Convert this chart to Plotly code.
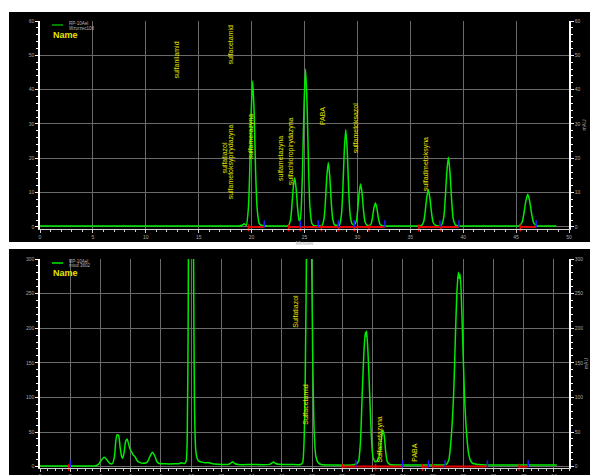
import plotly.graph_objects as go

# ---------------- data ----------------
# top chromatogram: standard mix (Wzorzec108)
top_minutes = [0, 5, 10, 15, 18.8, 19.1, 19.3, 19.5, 19.7, 19.82, 19.96, 20.1, 20.24, 20.38, 20.52, 20.7, 20.9,
               21.5, 23.0, 23.47, 23.67, 23.79, 23.93, 24.07, 24.21, 24.35, 24.49, 24.58, 24.7, 24.82, 24.96,
               25.1, 25.24, 25.38, 25.52, 25.7, 25.9, 26.65, 26.85, 26.97, 27.11, 27.25, 27.39, 27.53, 27.67,
               27.85, 28.1, 28.3, 28.5, 28.62, 28.76, 28.9, 29.04, 29.18, 29.32, 29.5, 29.7, 29.9, 30.02,
               30.16, 30.3, 30.44, 30.58, 30.72, 30.9, 31.1, 31.3, 31.42, 31.56, 31.7, 31.84, 31.98, 32.12,
               32.3, 33.0, 35.5, 36.04, 36.26, 36.39, 36.55, 36.7, 36.85, 37.01, 37.16, 37.36, 37.6, 37.94,
               38.16, 38.29, 38.45, 38.6, 38.75, 38.91, 39.06, 39.26, 39.5, 42.0, 45.0, 45.29, 45.56, 45.72,
               45.91, 46.1, 46.29, 46.48, 46.67, 46.91, 47.2, 48.8]
top_mau = [0.3, 0.3, 0.3, 0.3, 0.3, 0.5, 0.9, 0.5, 5.7, 15.9, 33.3, 42.5, 33.3, 15.9, 5.5, 1.2, 0.5,
           0.3, 0.3, 0.4, 1.9, 5.4, 11.2, 14.3, 11.2, 5.4, 2.0, 1.8, 6.2, 17.3, 36.0,
           46.0, 36.0, 17.3, 5.5, 1.0, 0.4, 0.4, 2.5, 7.1, 14.7, 18.8, 14.7, 7.1, 2.3,
           0.6, 0.4, 0.5, 3.8, 10.6, 22.2, 28.3, 22.2, 10.6, 3.4, 0.9, 0.6, 1.7, 4.7,
           9.8, 12.5, 9.8, 4.7, 1.5, 0.5, 0.4, 0.9, 2.6, 5.5, 7.0, 5.5, 2.6, 0.9,
           0.4, 0.3, 0.3, 0.4, 1.5, 4.0, 8.5, 10.8, 8.5, 4.0, 1.3, 0.5, 0.3, 0.5,
           2.7, 7.6, 15.9, 20.3, 15.9, 7.6, 2.3, 0.6, 0.3, 0.3, 0.3, 0.4, 1.3, 3.6,
           7.4, 9.5, 7.4, 3.6, 1.1, 0.4, 0.3, 0.3]

# bottom chromatogram: sample (miod 3602)
bot_minutes = [0.0, 1.0, 2.0, 3.0, 3.6, 3.85, 4.05, 4.24, 4.42, 4.62, 4.8, 4.93, 5.02, 5.1, 5.2, 5.3, 5.4,
               5.47, 5.56, 5.66, 5.76, 5.86, 5.96, 6.04, 6.16, 6.29, 6.42, 6.62, 6.9, 7.1, 7.28, 7.44,
               7.6, 7.74, 7.84, 8.3, 8.9, 9.2, 9.38, 9.5, 9.6, 9.68, 9.74, 9.8, 9.86, 9.92, 9.98, 10.04,
               10.1, 10.16, 10.22, 10.3, 10.38, 10.5, 10.7, 10.95, 11.13, 11.35, 11.8, 12.5, 12.62,
               12.74, 12.88, 13.1, 14.0, 15.2, 15.33, 15.45, 15.58, 15.8, 16.6, 17.25, 17.38, 17.46,
               17.55, 17.64, 17.72, 17.8, 17.88, 17.96, 18.05, 18.14, 18.25, 18.4, 18.6, 19.5, 20.6,
               20.95, 21.08, 21.2, 21.32, 21.43, 21.52, 21.56, 21.61, 21.7, 21.81, 21.92, 22.03, 22.18,
               22.3, 22.47, 22.6, 22.69, 22.78, 22.88, 22.98, 23.15, 24.0, 25.5, 26.7, 26.9, 27.05,
               27.2, 27.37, 27.48, 27.58, 27.68, 27.74, 27.8, 27.9, 28.0, 28.08, 28.2, 28.35, 28.5,
               28.65, 28.9, 29.5, 31.0, 34.2]
bot_mau = [0.8, 0.8, 0.8, 0.8, 1.0, 3.0, 9.0, 13.4, 10.0, 4.5, 4.5, 15.0, 38.0, 46.0, 45.0, 28.0, 15.0,
           12.0, 20.0, 36.0, 40.0, 33.0, 25.0, 22.0, 17.0, 14.3, 9.0, 5.7, 5.0, 6.5, 15.0, 20.6,
           15.0, 7.0, 4.8, 4.0, 4.0, 4.3, 5.5, 4.5, 5.0, 9.0, 40.0, 200.0, 520.0, 860.0, 990.0, 880.0,
           600.0, 300.0, 90.0, 25.0, 13.0, 8.0, 6.5, 5.5, 6.0, 4.5, 3.5, 3.5, 5.0,
           7.0, 4.5, 3.0, 3.0, 3.2, 5.0, 6.7, 4.5, 3.5, 3.0, 3.0, 6.0, 30.0,
           130.0, 330.0, 520.0, 630.0, 520.0, 330.0, 150.0, 50.0, 15.0, 6.0, 3.0, 2.2, 2.2,
           4.0, 8.0, 35.0, 106.0, 165.0, 194.0, 188.0, 196.0, 165.0, 106.0, 45.0, 14.0, 7.0,
           8.0, 18.0, 42.0, 53.0, 44.0, 20.0, 7.0, 3.0, 2.3, 2.3, 2.5, 3.5, 10.0,
           40.0, 106.0, 185.0, 250.0, 281.0, 272.0, 278.0, 230.0, 160.0, 106.0, 55.0, 20.0, 8.0,
           4.5, 3.5, 2.5, 2.2, 2.2]

# peak names
top_label_names = ["sulfanilamid", "sulfacetamid", "sulfatiazol", "sulfametoksypirydazyna", "sulfamerazyna",
                   "sulfametazyna", "sulfachloropirydazyna", "PABA", "sulfametoksazol", "sulfadimetoksyna"]
top_label_min = [12.85, 17.96, 17.45, 18.05, 19.94, 22.84, 23.8, 26.72, 29.8, 36.5]
top_label_mau = [48.8, 52.9, 20.1, 19.1, 26.4, 20.0, 22.0, 32.2, 28.8, 18.35]

bot_label_names = ["Sulfatiazol", "Sulfacetamid", "Sulfametazyna", "PABA"]
bot_label_min = [16.92, 17.6, 22.47, 24.77]
bot_label_mau = [225, 89.4, 38.5, 20.6]

# integration baselines and peak start/end marks
top_base_segments = [(19.7, 21.2), (23.5, 32.6), (35.8, 39.6), (45.4, 46.9)]
top_start_marks = [19.7, 23.5, 24.6, 26.6, 28.2, 29.7, 31.1, 35.8, 37.9, 45.4]
top_end_marks = [21.2, 24.6, 26.3, 28.2, 29.7, 32.6, 37.8, 39.6, 46.9]
bot_base_segments = [(1.9, 2.0), (20.0, 23.95), (25.3, 25.7), (26.0, 29.6), (31.7, 32.3)]
bot_start_marks = [1.9, 20.0, 22.2, 25.3, 26.0, 31.7]
bot_end_marks = [2.0, 20.9, 24.0, 25.7, 26.8, 29.6, 32.3]

legend_top = ["RP-10Ael", "Wzorzec108"]
legend_bot = ["RP-10Ael", "miod 3602"]

# ---------------- figure ----------------
W, H = 592, 475


def px(x):
    return x / W


def py(y):
    return 1 - y / H


GREEN = "rgb(0,235,0)"
YELLOW = "#e6e600"
GRID = "#6a6a6a"
TICKC = "#a8a8a8"
FONT = "Liberation Sans"

fig = go.Figure()

fig.add_trace(go.Scatter(x=top_minutes, y=top_mau, mode="lines", xaxis="x", yaxis="y",
                         line=dict(color=GREEN, width=1.5, shape="spline", smoothing=0.6),
                         showlegend=False, hoverinfo="skip"))
fig.add_trace(go.Scatter(x=bot_minutes, y=bot_mau, mode="lines", xaxis="x2", yaxis="y2",
                         line=dict(color=GREEN, width=1.5, shape="spline", smoothing=0.6),
                         showlegend=False, hoverinfo="skip"))


def seg_xy(segs, level):
    xs, ys = [], []
    for a, b in segs:
        xs += [a, b, None]
        ys += [level, level, None]
    return xs, ys


for segs, xa, ya, lvl in [(top_base_segments, "x", "y", 0.0), (bot_base_segments, "x2", "y2", 0.0)]:
    sx, sy = seg_xy(segs, lvl)
    fig.add_trace(go.Scatter(x=sx, y=sy, mode="lines", xaxis=xa, yaxis=ya,
                             line=dict(color="rgb(235,0,0)", width=2), showlegend=False, hoverinfo="skip"))

for marks, xa, ya, col, lvl in [(top_start_marks, "x", "y", "rgb(235,0,0)", -0.3),
                                (top_end_marks, "x", "y", "rgb(30,30,255)", 0.9),
                                (bot_start_marks, "x2", "y2", "rgb(235,0,0)", -1.0),
                                (bot_end_marks, "x2", "y2", "rgb(30,30,255)", 4.0)]:
    fig.add_trace(go.Scatter(x=marks, y=[lvl] * len(marks), mode="markers", xaxis=xa, yaxis=ya,
                             marker=dict(symbol="line-ns", size=5, line=dict(color=col, width=1.5)),
                             showlegend=False, hoverinfo="skip", cliponaxis=False))

# dummy traces so the right-hand axes are drawn
fig.add_trace(go.Scatter(x=[None], y=[None], xaxis="x", yaxis="y3", showlegend=False))
fig.add_trace(go.Scatter(x=[None], y=[None], xaxis="x2", yaxis="y4", showlegend=False))

xdom = [px(40), px(569)]
top_dom = [py(229), py(21)]
bot_dom = [py(468), py(259)]

common_x = dict(showgrid=True, gridcolor=GRID, gridwidth=1, zeroline=False, showline=True,
                linecolor="#d0d0d0", linewidth=1, ticks="outside", ticklen=3, tickcolor="#d0d0d0",
                tickfont=dict(size=5, color=TICKC, family=FONT))
common_y = dict(showgrid=True, gridcolor=GRID, gridwidth=1, zeroline=False, showline=True,
                linecolor="white", linewidth=1.5, ticks="outside", ticklen=3, tickcolor="white",
                tickfont=dict(size=5, color=TICKC, family=FONT))
right_y = dict(showgrid=False, zeroline=False, showline=True, linecolor="white", linewidth=1.5,
               ticks="outside", ticklen=3, tickcolor="white", side="right",
               tickfont=dict(size=5, color=TICKC, family=FONT),
               title=dict(text="mAU", font=dict(size=5, color=TICKC, family=FONT), standoff=1))

fig.update_layout(
    width=W, height=H,
    margin=dict(l=0, r=0, t=0, b=0, autoexpand=False),
    paper_bgcolor="white", plot_bgcolor="black",
    showlegend=False,
    xaxis=dict(domain=xdom, range=[0, 50], dtick=5, anchor="y",
               minor=dict(dtick=1, ticklen=2, tickcolor="#d0d0d0", showgrid=False),
               title=dict(text="Minutes", font=dict(size=5, color=TICKC, family=FONT), standoff=1),
               **common_x),
    yaxis=dict(domain=top_dom, range=[-0.6, 60], dtick=10, anchor="x",
               minor=dict(dtick=2, ticklen=2, tickcolor="white", showgrid=False), **common_y),
    yaxis3=dict(overlaying="y", anchor="x", range=[-0.6, 60], dtick=10,
                minor=dict(dtick=2, ticklen=2, tickcolor="white"), **right_y),
    xaxis2=dict(domain=xdom, range=[0, 35], dtick=2, anchor="y2",
                minor=dict(dtick=0.5, ticklen=2, tickcolor="#d0d0d0", showgrid=False), **common_x),
    yaxis2=dict(domain=bot_dom, range=[-2, 300], dtick=50, anchor="x2",
                minor=dict(dtick=10, ticklen=2, tickcolor="white", showgrid=False), **common_y),
    yaxis4=dict(overlaying="y2", anchor="x2", range=[-2, 300], dtick=50,
                minor=dict(dtick=10, ticklen=2, tickcolor="white"), **right_y),
)

# black panels behind the plots
fig.add_shape(type="rect", xref="paper", yref="paper", x0=px(9), x1=px(590), y0=py(242), y1=py(12),
              fillcolor="black", line=dict(width=0), layer="below")
fig.add_shape(type="rect", xref="paper", yref="paper", x0=px(9), x1=px(590), y0=py(475), y1=py(249),
              fillcolor="black", line=dict(width=0), layer="below")

# legends
for ly, col, texts, ty0 in [(25, "rgb(0,170,0)", legend_top, 24.0), (263, GREEN, legend_bot, 261.0)]:
    fig.add_shape(type="line", xref="paper", yref="paper", x0=px(52), x1=px(63), y0=py(ly), y1=py(ly),
                  line=dict(color=col, width=1.5))
    for i, t in enumerate(texts):
        fig.add_annotation(xref="paper", yref="paper", x=px(67), y=py(ty0 + 4.6 * i), text=t,
                           showarrow=False, xanchor="left", yanchor="middle",
                           font=dict(size=4.5, color="#b4b4b4", family=FONT))

for ny in [35, 273]:
    fig.add_annotation(xref="paper", yref="paper", x=px(51), y=py(ny), text="<b>Name</b>",
                       showarrow=False, xanchor="left", yanchor="middle",
                       font=dict(size=9, color=YELLOW, family=FONT))

# peak labels
for n, t, v in zip(top_label_names, top_label_min, top_label_mau):
    fig.add_annotation(x=t, y=v, xref="x", yref="y", text=n, textangle=-90, showarrow=False,
                       font=dict(size=7, color=YELLOW, family=FONT))
for n, t, v in zip(bot_label_names, bot_label_min, bot_label_mau):
    fig.add_annotation(x=t, y=v, xref="x2", yref="y2", text=n, textangle=-90, showarrow=False,
                       font=dict(size=7, color=YELLOW, family=FONT))

fig.write_html("out.html", config={"displayModeBar": False},
               post_script="document.body.style.margin='0px';document.body.style.padding='0px';")
